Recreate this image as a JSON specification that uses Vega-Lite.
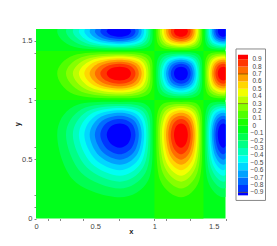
{"$schema":"https://vega.github.io/schema/vega-lite/v6.json","padding":{"left":13,"top":29,"right":0,"bottom":0},"background":"white","spacing":8,"config":{"view":{"stroke":null},"font":"Liberation Sans"},"hconcat":[{"width":189.5,"height":189.5,"encoding":{"x":{"field":"x","type":"quantitative","scale":{"domain":[0,1.6],"nice":false},"axis":{"values":[0,0.1,0.2,0.4,0.5,0.7,1,1.1,1.3,1.5,1.6],"labelExpr":"datum.value==0||datum.value==0.5||datum.value==1||datum.value==1.5?datum.value:''","labelOverlap":false,"labelFlush":false,"grid":false,"domain":false,"tickSize":2,"tickColor":{"condition":{"test":"datum.value==0.5||datum.value==1.5||datum.value==0","value":"transparent"},"value":"#555"},"tickWidth":0.7,"labelFontSize":7.5,"labelColor":"#444","labelPadding":2,"title":"x","titleFontSize":7.5,"titleFontWeight":"bold","titleColor":"#222","titlePadding":-3}},"y":{"field":"y","type":"quantitative","scale":{"domain":[0,1.6],"nice":false},"axis":{"values":[0,0.1,0.2,0.5,0.6,1,1.1,1.4,1.5],"labelExpr":"datum.value==0||datum.value==0.5||datum.value==1||datum.value==1.5?datum.value:''","labelOverlap":false,"labelFlush":false,"grid":false,"domain":false,"tickSize":2,"tickColor":"#555","tickWidth":0.7,"labelFontSize":7.5,"labelColor":"#444","labelPadding":2,"title":"y","titleFontSize":7.5,"titleFontWeight":"bold","titleColor":"#222","titlePadding":0}},"color":{"field":"z","type":"ordinal","legend":null,"scale":{"domain":[-0.95,-0.85,-0.75,-0.65,-0.55,-0.45,-0.35,-0.25,-0.15,-0.05,0.05,0.15,0.25,0.35,0.45,0.55,0.65,0.75,0.85,0.95],"range":["rgb(0,0,255)","rgb(0,54,255)","rgb(0,108,255)","rgb(0,161,255)","rgb(0,215,255)","rgb(0,255,242)","rgb(0,255,188)","rgb(0,255,134)","rgb(0,255,81)","rgb(0,255,27)","rgb(27,255,0)","rgb(81,255,0)","rgb(134,255,0)","rgb(188,255,0)","rgb(242,255,0)","rgb(255,215,0)","rgb(255,161,0)","rgb(255,108,0)","rgb(255,54,0)","rgb(255,0,0)"]}}},"layer":[{"data":{"values":[{"x":0,"x2":1.6,"y":0,"y2":1.6,"z":-0.05},{"x":1,"x2":1.414,"y":0,"y2":1,"z":0.05},{"x":0,"x2":1,"y":1,"y2":1.414,"z":0.05},{"x":1.414,"x2":1.6,"y":1,"y2":1.414,"z":0.05},{"x":1,"x2":1.414,"y":1.414,"y2":1.6,"z":0.05}]},"mark":{"type":"rect","stroke":null},"encoding":{"x2":{"field":"x2"},"y2":{"field":"y2"}}},{"data":{"values":[
{"c":1,"o":0,"z":-0.15,"x":0.707,"y":0.179},{"c":1,"o":1,"z":-0.15,"x":0.32,"y":0.32},{"c":1,"o":2,"z":-0.15,"x":0.179,"y":0.707},{"c":1,"o":3,"z":-0.15,"x":0.32,"y":0.947},{"c":1,"o":4,"z":-0.15,"x":0.707,"y":0.984},{"c":1,"o":5,"z":-0.15,"x":0.947,"y":0.947},{"c":1,"o":6,"z":-0.15,"x":0.984,"y":0.707},{"c":1,"o":7,"z":-0.15,"x":0.947,"y":0.32},
{"c":2,"o":0,"z":-0.25,"x":0.707,"y":0.253},{"c":2,"o":1,"z":-0.25,"x":0.384,"y":0.384},{"c":2,"o":2,"z":-0.25,"x":0.253,"y":0.707},{"c":2,"o":3,"z":-0.25,"x":0.384,"y":0.923},{"c":2,"o":4,"z":-0.25,"x":0.707,"y":0.967},{"c":2,"o":5,"z":-0.25,"x":0.923,"y":0.923},{"c":2,"o":6,"z":-0.25,"x":0.967,"y":0.707},{"c":2,"o":7,"z":-0.25,"x":0.923,"y":0.384},
{"c":3,"o":0,"z":-0.35,"x":0.707,"y":0.311},{"c":3,"o":1,"z":-0.35,"x":0.43,"y":0.43},{"c":3,"o":2,"z":-0.35,"x":0.311,"y":0.707},{"c":3,"o":3,"z":-0.35,"x":0.43,"y":0.903},{"c":3,"o":4,"z":-0.35,"x":0.707,"y":0.95},{"c":3,"o":5,"z":-0.35,"x":0.903,"y":0.903},{"c":3,"o":6,"z":-0.35,"x":0.95,"y":0.707},{"c":3,"o":7,"z":-0.35,"x":0.903,"y":0.43},
{"c":4,"o":0,"z":-0.45,"x":0.707,"y":0.362},{"c":4,"o":1,"z":-0.45,"x":0.467,"y":0.467},{"c":4,"o":2,"z":-0.45,"x":0.362,"y":0.707},{"c":4,"o":3,"z":-0.45,"x":0.467,"y":0.884},{"c":4,"o":4,"z":-0.45,"x":0.707,"y":0.932},{"c":4,"o":5,"z":-0.45,"x":0.884,"y":0.884},{"c":4,"o":6,"z":-0.45,"x":0.932,"y":0.707},{"c":4,"o":7,"z":-0.45,"x":0.884,"y":0.467},
{"c":5,"o":0,"z":-0.55,"x":0.707,"y":0.408},{"c":5,"o":1,"z":-0.55,"x":0.5,"y":0.5},{"c":5,"o":2,"z":-0.55,"x":0.408,"y":0.707},{"c":5,"o":3,"z":-0.55,"x":0.5,"y":0.866},{"c":5,"o":4,"z":-0.55,"x":0.707,"y":0.913},{"c":5,"o":5,"z":-0.55,"x":0.866,"y":0.866},{"c":5,"o":6,"z":-0.55,"x":0.913,"y":0.707},{"c":5,"o":7,"z":-0.55,"x":0.866,"y":0.5},
{"c":6,"o":0,"z":-0.65,"x":0.707,"y":0.453},{"c":6,"o":1,"z":-0.65,"x":0.531,"y":0.531},{"c":6,"o":2,"z":-0.65,"x":0.453,"y":0.707},{"c":6,"o":3,"z":-0.65,"x":0.531,"y":0.847},{"c":6,"o":4,"z":-0.65,"x":0.707,"y":0.892},{"c":6,"o":5,"z":-0.65,"x":0.847,"y":0.847},{"c":6,"o":6,"z":-0.65,"x":0.892,"y":0.707},{"c":6,"o":7,"z":-0.65,"x":0.847,"y":0.531},
{"c":7,"o":0,"z":-0.75,"x":0.707,"y":0.497},{"c":7,"o":1,"z":-0.75,"x":0.562,"y":0.562},{"c":7,"o":2,"z":-0.75,"x":0.497,"y":0.707},{"c":7,"o":3,"z":-0.75,"x":0.562,"y":0.827},{"c":7,"o":4,"z":-0.75,"x":0.707,"y":0.868},{"c":7,"o":5,"z":-0.75,"x":0.827,"y":0.827},{"c":7,"o":6,"z":-0.75,"x":0.868,"y":0.707},{"c":7,"o":7,"z":-0.75,"x":0.827,"y":0.562},
{"c":8,"o":0,"z":-0.85,"x":0.707,"y":0.543},{"c":8,"o":1,"z":-0.85,"x":0.594,"y":0.594},{"c":8,"o":2,"z":-0.85,"x":0.543,"y":0.707},{"c":8,"o":3,"z":-0.85,"x":0.594,"y":0.805},{"c":8,"o":4,"z":-0.85,"x":0.707,"y":0.84},{"c":8,"o":5,"z":-0.85,"x":0.805,"y":0.805},{"c":8,"o":6,"z":-0.85,"x":0.84,"y":0.707},{"c":8,"o":7,"z":-0.85,"x":0.805,"y":0.594},
{"c":9,"o":0,"z":-0.95,"x":0.707,"y":0.597},{"c":9,"o":1,"z":-0.95,"x":0.631,"y":0.631},{"c":9,"o":2,"z":-0.95,"x":0.597,"y":0.707},{"c":9,"o":3,"z":-0.95,"x":0.631,"y":0.776},{"c":9,"o":4,"z":-0.95,"x":0.707,"y":0.802},{"c":9,"o":5,"z":-0.95,"x":0.776,"y":0.776},{"c":9,"o":6,"z":-0.95,"x":0.802,"y":0.707},{"c":9,"o":7,"z":-0.95,"x":0.776,"y":0.631},
{"c":11,"o":0,"z":0.15,"x":1.225,"y":0.179},{"c":11,"o":1,"z":0.15,"x":1.05,"y":0.32},{"c":11,"o":2,"z":0.15,"x":1.016,"y":0.707},{"c":11,"o":3,"z":0.15,"x":1.05,"y":0.947},{"c":11,"o":4,"z":0.15,"x":1.225,"y":0.984},{"c":11,"o":5,"z":0.15,"x":1.378,"y":0.947},{"c":11,"o":6,"z":0.15,"x":1.403,"y":0.707},{"c":11,"o":7,"z":0.15,"x":1.378,"y":0.32},
{"c":12,"o":0,"z":0.25,"x":1.225,"y":0.253},{"c":12,"o":1,"z":0.25,"x":1.071,"y":0.384},{"c":12,"o":2,"z":0.25,"x":1.032,"y":0.707},{"c":12,"o":3,"z":0.25,"x":1.071,"y":0.923},{"c":12,"o":4,"z":0.25,"x":1.225,"y":0.967},{"c":12,"o":5,"z":0.25,"x":1.361,"y":0.923},{"c":12,"o":6,"z":0.25,"x":1.391,"y":0.707},{"c":12,"o":7,"z":0.25,"x":1.361,"y":0.384},
{"c":13,"o":0,"z":0.35,"x":1.225,"y":0.311},{"c":13,"o":1,"z":0.35,"x":1.088,"y":0.43},{"c":13,"o":2,"z":0.35,"x":1.047,"y":0.707},{"c":13,"o":3,"z":0.35,"x":1.088,"y":0.903},{"c":13,"o":4,"z":0.35,"x":1.225,"y":0.95},{"c":13,"o":5,"z":0.35,"x":1.347,"y":0.903},{"c":13,"o":6,"z":0.35,"x":1.379,"y":0.707},{"c":13,"o":7,"z":0.35,"x":1.347,"y":0.43},
{"c":14,"o":0,"z":0.45,"x":1.225,"y":0.362},{"c":14,"o":1,"z":0.45,"x":1.104,"y":0.467},{"c":14,"o":2,"z":0.45,"x":1.063,"y":0.707},{"c":14,"o":3,"z":0.45,"x":1.104,"y":0.884},{"c":14,"o":4,"z":0.45,"x":1.225,"y":0.932},{"c":14,"o":5,"z":0.45,"x":1.335,"y":0.884},{"c":14,"o":6,"z":0.45,"x":1.367,"y":0.707},{"c":14,"o":7,"z":0.45,"x":1.335,"y":0.467},
{"c":15,"o":0,"z":0.55,"x":1.225,"y":0.408},{"c":15,"o":1,"z":0.55,"x":1.118,"y":0.5},{"c":15,"o":2,"z":0.55,"x":1.08,"y":0.707},{"c":15,"o":3,"z":0.55,"x":1.118,"y":0.866},{"c":15,"o":4,"z":0.55,"x":1.225,"y":0.913},{"c":15,"o":5,"z":0.55,"x":1.323,"y":0.866},{"c":15,"o":6,"z":0.55,"x":1.354,"y":0.707},{"c":15,"o":7,"z":0.55,"x":1.323,"y":0.5},
{"c":16,"o":0,"z":0.65,"x":1.225,"y":0.453},{"c":16,"o":1,"z":0.65,"x":1.132,"y":0.531},{"c":16,"o":2,"z":0.65,"x":1.098,"y":0.707},{"c":16,"o":3,"z":0.65,"x":1.132,"y":0.847},{"c":16,"o":4,"z":0.65,"x":1.225,"y":0.892},{"c":16,"o":5,"z":0.65,"x":1.311,"y":0.847},{"c":16,"o":6,"z":0.65,"x":1.34,"y":0.707},{"c":16,"o":7,"z":0.65,"x":1.311,"y":0.531},
{"c":17,"o":0,"z":0.75,"x":1.225,"y":0.497},{"c":17,"o":1,"z":0.75,"x":1.147,"y":0.562},{"c":17,"o":2,"z":0.75,"x":1.117,"y":0.707},{"c":17,"o":3,"z":0.75,"x":1.147,"y":0.827},{"c":17,"o":4,"z":0.75,"x":1.225,"y":0.868},{"c":17,"o":5,"z":0.75,"x":1.298,"y":0.827},{"c":17,"o":6,"z":0.75,"x":1.324,"y":0.707},{"c":17,"o":7,"z":0.75,"x":1.298,"y":0.562},
{"c":18,"o":0,"z":0.85,"x":1.225,"y":0.543},{"c":18,"o":1,"z":0.85,"x":1.163,"y":0.594},{"c":18,"o":2,"z":0.85,"x":1.138,"y":0.707},{"c":18,"o":3,"z":0.85,"x":1.163,"y":0.805},{"c":18,"o":4,"z":0.85,"x":1.225,"y":0.84},{"c":18,"o":5,"z":0.85,"x":1.284,"y":0.805},{"c":18,"o":6,"z":0.85,"x":1.306,"y":0.707},{"c":18,"o":7,"z":0.85,"x":1.284,"y":0.594},
{"c":19,"o":0,"z":0.95,"x":1.225,"y":0.597},{"c":19,"o":1,"z":0.95,"x":1.182,"y":0.631},{"c":19,"o":2,"z":0.95,"x":1.165,"y":0.707},{"c":19,"o":3,"z":0.95,"x":1.182,"y":0.776},{"c":19,"o":4,"z":0.95,"x":1.225,"y":0.802},{"c":19,"o":5,"z":0.95,"x":1.266,"y":0.776},{"c":19,"o":6,"z":0.95,"x":1.282,"y":0.707},{"c":19,"o":7,"z":0.95,"x":1.266,"y":0.631},
{"c":21,"o":0,"z":-0.15,"x":1.581,"y":0.179},{"c":21,"o":1,"z":-0.15,"x":1.45,"y":0.32},{"c":21,"o":2,"z":-0.15,"x":1.425,"y":0.707},{"c":21,"o":3,"z":-0.15,"x":1.45,"y":0.947},{"c":21,"o":4,"z":-0.15,"x":1.581,"y":0.984},{"c":21,"o":5,"z":-0.15,"x":1.702,"y":0.947},{"c":21,"o":6,"z":-0.15,"x":1.723,"y":0.707},{"c":21,"o":7,"z":-0.15,"x":1.702,"y":0.32},
{"c":22,"o":0,"z":-0.25,"x":1.581,"y":0.253},{"c":22,"o":1,"z":-0.25,"x":1.465,"y":0.384},{"c":22,"o":2,"z":-0.25,"x":1.437,"y":0.707},{"c":22,"o":3,"z":-0.25,"x":1.465,"y":0.923},{"c":22,"o":4,"z":-0.25,"x":1.581,"y":0.967},{"c":22,"o":5,"z":-0.25,"x":1.689,"y":0.923},{"c":22,"o":6,"z":-0.25,"x":1.713,"y":0.707},{"c":22,"o":7,"z":-0.25,"x":1.689,"y":0.384},
{"c":23,"o":0,"z":-0.35,"x":1.581,"y":0.311},{"c":23,"o":1,"z":-0.35,"x":1.478,"y":0.43},{"c":23,"o":2,"z":-0.35,"x":1.448,"y":0.707},{"c":23,"o":3,"z":-0.35,"x":1.478,"y":0.903},{"c":23,"o":4,"z":-0.35,"x":1.581,"y":0.95},{"c":23,"o":5,"z":-0.35,"x":1.678,"y":0.903},{"c":23,"o":6,"z":-0.35,"x":1.704,"y":0.707},{"c":23,"o":7,"z":-0.35,"x":1.678,"y":0.43},
{"c":24,"o":0,"z":-0.45,"x":1.581,"y":0.362},{"c":24,"o":1,"z":-0.45,"x":1.489,"y":0.467},{"c":24,"o":2,"z":-0.45,"x":1.46,"y":0.707},{"c":24,"o":3,"z":-0.45,"x":1.489,"y":0.884},{"c":24,"o":4,"z":-0.45,"x":1.581,"y":0.932},{"c":24,"o":5,"z":-0.45,"x":1.668,"y":0.884},{"c":24,"o":6,"z":-0.45,"x":1.694,"y":0.707},{"c":24,"o":7,"z":-0.45,"x":1.668,"y":0.467},
{"c":25,"o":0,"z":-0.55,"x":1.581,"y":0.408},{"c":25,"o":1,"z":-0.55,"x":1.5,"y":0.5},{"c":25,"o":2,"z":-0.55,"x":1.472,"y":0.707},{"c":25,"o":3,"z":-0.55,"x":1.5,"y":0.866},{"c":25,"o":4,"z":-0.55,"x":1.581,"y":0.913},{"c":25,"o":5,"z":-0.55,"x":1.658,"y":0.866},{"c":25,"o":6,"z":-0.55,"x":1.683,"y":0.707},{"c":25,"o":7,"z":-0.55,"x":1.658,"y":0.5},
{"c":26,"o":0,"z":-0.65,"x":1.581,"y":0.453},{"c":26,"o":1,"z":-0.65,"x":1.511,"y":0.531},{"c":26,"o":2,"z":-0.65,"x":1.485,"y":0.707},{"c":26,"o":3,"z":-0.65,"x":1.511,"y":0.847},{"c":26,"o":4,"z":-0.65,"x":1.581,"y":0.892},{"c":26,"o":5,"z":-0.65,"x":1.649,"y":0.847},{"c":26,"o":6,"z":-0.65,"x":1.672,"y":0.707},{"c":26,"o":7,"z":-0.65,"x":1.649,"y":0.531},
{"c":27,"o":0,"z":-0.75,"x":1.581,"y":0.497},{"c":27,"o":1,"z":-0.75,"x":1.522,"y":0.562},{"c":27,"o":2,"z":-0.75,"x":1.499,"y":0.707},{"c":27,"o":3,"z":-0.75,"x":1.522,"y":0.827},{"c":27,"o":4,"z":-0.75,"x":1.581,"y":0.868},{"c":27,"o":5,"z":-0.75,"x":1.638,"y":0.827},{"c":27,"o":6,"z":-0.75,"x":1.659,"y":0.707},{"c":27,"o":7,"z":-0.75,"x":1.638,"y":0.562},
{"c":28,"o":0,"z":-0.85,"x":1.581,"y":0.543},{"c":28,"o":1,"z":-0.85,"x":1.534,"y":0.594},{"c":28,"o":2,"z":-0.85,"x":1.515,"y":0.707},{"c":28,"o":3,"z":-0.85,"x":1.534,"y":0.805},{"c":28,"o":4,"z":-0.85,"x":1.581,"y":0.84},{"c":28,"o":5,"z":-0.85,"x":1.627,"y":0.805},{"c":28,"o":6,"z":-0.85,"x":1.645,"y":0.707},{"c":28,"o":7,"z":-0.85,"x":1.627,"y":0.594},
{"c":29,"o":0,"z":-0.95,"x":1.581,"y":0.597},{"c":29,"o":1,"z":-0.95,"x":1.548,"y":0.631},{"c":29,"o":2,"z":-0.95,"x":1.535,"y":0.707},{"c":29,"o":3,"z":-0.95,"x":1.548,"y":0.776},{"c":29,"o":4,"z":-0.95,"x":1.581,"y":0.802},{"c":29,"o":5,"z":-0.95,"x":1.613,"y":0.776},{"c":29,"o":6,"z":-0.95,"x":1.626,"y":0.707},{"c":29,"o":7,"z":-0.95,"x":1.613,"y":0.631},
{"c":31,"o":0,"z":0.15,"x":0.707,"y":1.016},{"c":31,"o":1,"z":0.15,"x":0.32,"y":1.05},{"c":31,"o":2,"z":0.15,"x":0.179,"y":1.225},{"c":31,"o":3,"z":0.15,"x":0.32,"y":1.378},{"c":31,"o":4,"z":0.15,"x":0.707,"y":1.403},{"c":31,"o":5,"z":0.15,"x":0.947,"y":1.378},{"c":31,"o":6,"z":0.15,"x":0.984,"y":1.225},{"c":31,"o":7,"z":0.15,"x":0.947,"y":1.05},
{"c":32,"o":0,"z":0.25,"x":0.707,"y":1.032},{"c":32,"o":1,"z":0.25,"x":0.384,"y":1.071},{"c":32,"o":2,"z":0.25,"x":0.253,"y":1.225},{"c":32,"o":3,"z":0.25,"x":0.384,"y":1.361},{"c":32,"o":4,"z":0.25,"x":0.707,"y":1.391},{"c":32,"o":5,"z":0.25,"x":0.923,"y":1.361},{"c":32,"o":6,"z":0.25,"x":0.967,"y":1.225},{"c":32,"o":7,"z":0.25,"x":0.923,"y":1.071},
{"c":33,"o":0,"z":0.35,"x":0.707,"y":1.047},{"c":33,"o":1,"z":0.35,"x":0.43,"y":1.088},{"c":33,"o":2,"z":0.35,"x":0.311,"y":1.225},{"c":33,"o":3,"z":0.35,"x":0.43,"y":1.347},{"c":33,"o":4,"z":0.35,"x":0.707,"y":1.379},{"c":33,"o":5,"z":0.35,"x":0.903,"y":1.347},{"c":33,"o":6,"z":0.35,"x":0.95,"y":1.225},{"c":33,"o":7,"z":0.35,"x":0.903,"y":1.088},
{"c":34,"o":0,"z":0.45,"x":0.707,"y":1.063},{"c":34,"o":1,"z":0.45,"x":0.467,"y":1.104},{"c":34,"o":2,"z":0.45,"x":0.362,"y":1.225},{"c":34,"o":3,"z":0.45,"x":0.467,"y":1.335},{"c":34,"o":4,"z":0.45,"x":0.707,"y":1.367},{"c":34,"o":5,"z":0.45,"x":0.884,"y":1.335},{"c":34,"o":6,"z":0.45,"x":0.932,"y":1.225},{"c":34,"o":7,"z":0.45,"x":0.884,"y":1.104},
{"c":35,"o":0,"z":0.55,"x":0.707,"y":1.08},{"c":35,"o":1,"z":0.55,"x":0.5,"y":1.118},{"c":35,"o":2,"z":0.55,"x":0.408,"y":1.225},{"c":35,"o":3,"z":0.55,"x":0.5,"y":1.323},{"c":35,"o":4,"z":0.55,"x":0.707,"y":1.354},{"c":35,"o":5,"z":0.55,"x":0.866,"y":1.323},{"c":35,"o":6,"z":0.55,"x":0.913,"y":1.225},{"c":35,"o":7,"z":0.55,"x":0.866,"y":1.118},
{"c":36,"o":0,"z":0.65,"x":0.707,"y":1.098},{"c":36,"o":1,"z":0.65,"x":0.531,"y":1.132},{"c":36,"o":2,"z":0.65,"x":0.453,"y":1.225},{"c":36,"o":3,"z":0.65,"x":0.531,"y":1.311},{"c":36,"o":4,"z":0.65,"x":0.707,"y":1.34},{"c":36,"o":5,"z":0.65,"x":0.847,"y":1.311},{"c":36,"o":6,"z":0.65,"x":0.892,"y":1.225},{"c":36,"o":7,"z":0.65,"x":0.847,"y":1.132},
{"c":37,"o":0,"z":0.75,"x":0.707,"y":1.117},{"c":37,"o":1,"z":0.75,"x":0.562,"y":1.147},{"c":37,"o":2,"z":0.75,"x":0.497,"y":1.225},{"c":37,"o":3,"z":0.75,"x":0.562,"y":1.298},{"c":37,"o":4,"z":0.75,"x":0.707,"y":1.324},{"c":37,"o":5,"z":0.75,"x":0.827,"y":1.298},{"c":37,"o":6,"z":0.75,"x":0.868,"y":1.225},{"c":37,"o":7,"z":0.75,"x":0.827,"y":1.147},
{"c":38,"o":0,"z":0.85,"x":0.707,"y":1.138},{"c":38,"o":1,"z":0.85,"x":0.594,"y":1.163},{"c":38,"o":2,"z":0.85,"x":0.543,"y":1.225},{"c":38,"o":3,"z":0.85,"x":0.594,"y":1.284},{"c":38,"o":4,"z":0.85,"x":0.707,"y":1.306},{"c":38,"o":5,"z":0.85,"x":0.805,"y":1.284},{"c":38,"o":6,"z":0.85,"x":0.84,"y":1.225},{"c":38,"o":7,"z":0.85,"x":0.805,"y":1.163},
{"c":39,"o":0,"z":0.95,"x":0.707,"y":1.165},{"c":39,"o":1,"z":0.95,"x":0.631,"y":1.182},{"c":39,"o":2,"z":0.95,"x":0.597,"y":1.225},{"c":39,"o":3,"z":0.95,"x":0.631,"y":1.266},{"c":39,"o":4,"z":0.95,"x":0.707,"y":1.282},{"c":39,"o":5,"z":0.95,"x":0.776,"y":1.266},{"c":39,"o":6,"z":0.95,"x":0.802,"y":1.225},{"c":39,"o":7,"z":0.95,"x":0.776,"y":1.182},
{"c":41,"o":0,"z":-0.15,"x":1.225,"y":1.016},{"c":41,"o":1,"z":-0.15,"x":1.05,"y":1.05},{"c":41,"o":2,"z":-0.15,"x":1.016,"y":1.225},{"c":41,"o":3,"z":-0.15,"x":1.05,"y":1.378},{"c":41,"o":4,"z":-0.15,"x":1.225,"y":1.403},{"c":41,"o":5,"z":-0.15,"x":1.378,"y":1.378},{"c":41,"o":6,"z":-0.15,"x":1.403,"y":1.225},{"c":41,"o":7,"z":-0.15,"x":1.378,"y":1.05},
{"c":42,"o":0,"z":-0.25,"x":1.225,"y":1.032},{"c":42,"o":1,"z":-0.25,"x":1.071,"y":1.071},{"c":42,"o":2,"z":-0.25,"x":1.032,"y":1.225},{"c":42,"o":3,"z":-0.25,"x":1.071,"y":1.361},{"c":42,"o":4,"z":-0.25,"x":1.225,"y":1.391},{"c":42,"o":5,"z":-0.25,"x":1.361,"y":1.361},{"c":42,"o":6,"z":-0.25,"x":1.391,"y":1.225},{"c":42,"o":7,"z":-0.25,"x":1.361,"y":1.071},
{"c":43,"o":0,"z":-0.35,"x":1.225,"y":1.047},{"c":43,"o":1,"z":-0.35,"x":1.088,"y":1.088},{"c":43,"o":2,"z":-0.35,"x":1.047,"y":1.225},{"c":43,"o":3,"z":-0.35,"x":1.088,"y":1.347},{"c":43,"o":4,"z":-0.35,"x":1.225,"y":1.379},{"c":43,"o":5,"z":-0.35,"x":1.347,"y":1.347},{"c":43,"o":6,"z":-0.35,"x":1.379,"y":1.225},{"c":43,"o":7,"z":-0.35,"x":1.347,"y":1.088},
{"c":44,"o":0,"z":-0.45,"x":1.225,"y":1.063},{"c":44,"o":1,"z":-0.45,"x":1.104,"y":1.104},{"c":44,"o":2,"z":-0.45,"x":1.063,"y":1.225},{"c":44,"o":3,"z":-0.45,"x":1.104,"y":1.335},{"c":44,"o":4,"z":-0.45,"x":1.225,"y":1.367},{"c":44,"o":5,"z":-0.45,"x":1.335,"y":1.335},{"c":44,"o":6,"z":-0.45,"x":1.367,"y":1.225},{"c":44,"o":7,"z":-0.45,"x":1.335,"y":1.104},
{"c":45,"o":0,"z":-0.55,"x":1.225,"y":1.08},{"c":45,"o":1,"z":-0.55,"x":1.118,"y":1.118},{"c":45,"o":2,"z":-0.55,"x":1.08,"y":1.225},{"c":45,"o":3,"z":-0.55,"x":1.118,"y":1.323},{"c":45,"o":4,"z":-0.55,"x":1.225,"y":1.354},{"c":45,"o":5,"z":-0.55,"x":1.323,"y":1.323},{"c":45,"o":6,"z":-0.55,"x":1.354,"y":1.225},{"c":45,"o":7,"z":-0.55,"x":1.323,"y":1.118},
{"c":46,"o":0,"z":-0.65,"x":1.225,"y":1.098},{"c":46,"o":1,"z":-0.65,"x":1.132,"y":1.132},{"c":46,"o":2,"z":-0.65,"x":1.098,"y":1.225},{"c":46,"o":3,"z":-0.65,"x":1.132,"y":1.311},{"c":46,"o":4,"z":-0.65,"x":1.225,"y":1.34},{"c":46,"o":5,"z":-0.65,"x":1.311,"y":1.311},{"c":46,"o":6,"z":-0.65,"x":1.34,"y":1.225},{"c":46,"o":7,"z":-0.65,"x":1.311,"y":1.132},
{"c":47,"o":0,"z":-0.75,"x":1.225,"y":1.117},{"c":47,"o":1,"z":-0.75,"x":1.147,"y":1.147},{"c":47,"o":2,"z":-0.75,"x":1.117,"y":1.225},{"c":47,"o":3,"z":-0.75,"x":1.147,"y":1.298},{"c":47,"o":4,"z":-0.75,"x":1.225,"y":1.324},{"c":47,"o":5,"z":-0.75,"x":1.298,"y":1.298},{"c":47,"o":6,"z":-0.75,"x":1.324,"y":1.225},{"c":47,"o":7,"z":-0.75,"x":1.298,"y":1.147},
{"c":48,"o":0,"z":-0.85,"x":1.225,"y":1.138},{"c":48,"o":1,"z":-0.85,"x":1.163,"y":1.163},{"c":48,"o":2,"z":-0.85,"x":1.138,"y":1.225},{"c":48,"o":3,"z":-0.85,"x":1.163,"y":1.284},{"c":48,"o":4,"z":-0.85,"x":1.225,"y":1.306},{"c":48,"o":5,"z":-0.85,"x":1.284,"y":1.284},{"c":48,"o":6,"z":-0.85,"x":1.306,"y":1.225},{"c":48,"o":7,"z":-0.85,"x":1.284,"y":1.163},
{"c":49,"o":0,"z":-0.95,"x":1.225,"y":1.165},{"c":49,"o":1,"z":-0.95,"x":1.182,"y":1.182},{"c":49,"o":2,"z":-0.95,"x":1.165,"y":1.225},{"c":49,"o":3,"z":-0.95,"x":1.182,"y":1.266},{"c":49,"o":4,"z":-0.95,"x":1.225,"y":1.282},{"c":49,"o":5,"z":-0.95,"x":1.266,"y":1.266},{"c":49,"o":6,"z":-0.95,"x":1.282,"y":1.225},{"c":49,"o":7,"z":-0.95,"x":1.266,"y":1.182},
{"c":51,"o":0,"z":0.15,"x":1.581,"y":1.016},{"c":51,"o":1,"z":0.15,"x":1.45,"y":1.05},{"c":51,"o":2,"z":0.15,"x":1.425,"y":1.225},{"c":51,"o":3,"z":0.15,"x":1.45,"y":1.378},{"c":51,"o":4,"z":0.15,"x":1.581,"y":1.403},{"c":51,"o":5,"z":0.15,"x":1.702,"y":1.378},{"c":51,"o":6,"z":0.15,"x":1.723,"y":1.225},{"c":51,"o":7,"z":0.15,"x":1.702,"y":1.05},
{"c":52,"o":0,"z":0.25,"x":1.581,"y":1.032},{"c":52,"o":1,"z":0.25,"x":1.465,"y":1.071},{"c":52,"o":2,"z":0.25,"x":1.437,"y":1.225},{"c":52,"o":3,"z":0.25,"x":1.465,"y":1.361},{"c":52,"o":4,"z":0.25,"x":1.581,"y":1.391},{"c":52,"o":5,"z":0.25,"x":1.689,"y":1.361},{"c":52,"o":6,"z":0.25,"x":1.713,"y":1.225},{"c":52,"o":7,"z":0.25,"x":1.689,"y":1.071},
{"c":53,"o":0,"z":0.35,"x":1.581,"y":1.047},{"c":53,"o":1,"z":0.35,"x":1.478,"y":1.088},{"c":53,"o":2,"z":0.35,"x":1.448,"y":1.225},{"c":53,"o":3,"z":0.35,"x":1.478,"y":1.347},{"c":53,"o":4,"z":0.35,"x":1.581,"y":1.379},{"c":53,"o":5,"z":0.35,"x":1.678,"y":1.347},{"c":53,"o":6,"z":0.35,"x":1.704,"y":1.225},{"c":53,"o":7,"z":0.35,"x":1.678,"y":1.088},
{"c":54,"o":0,"z":0.45,"x":1.581,"y":1.063},{"c":54,"o":1,"z":0.45,"x":1.489,"y":1.104},{"c":54,"o":2,"z":0.45,"x":1.46,"y":1.225},{"c":54,"o":3,"z":0.45,"x":1.489,"y":1.335},{"c":54,"o":4,"z":0.45,"x":1.581,"y":1.367},{"c":54,"o":5,"z":0.45,"x":1.668,"y":1.335},{"c":54,"o":6,"z":0.45,"x":1.694,"y":1.225},{"c":54,"o":7,"z":0.45,"x":1.668,"y":1.104},
{"c":55,"o":0,"z":0.55,"x":1.581,"y":1.08},{"c":55,"o":1,"z":0.55,"x":1.5,"y":1.118},{"c":55,"o":2,"z":0.55,"x":1.472,"y":1.225},{"c":55,"o":3,"z":0.55,"x":1.5,"y":1.323},{"c":55,"o":4,"z":0.55,"x":1.581,"y":1.354},{"c":55,"o":5,"z":0.55,"x":1.658,"y":1.323},{"c":55,"o":6,"z":0.55,"x":1.683,"y":1.225},{"c":55,"o":7,"z":0.55,"x":1.658,"y":1.118},
{"c":56,"o":0,"z":0.65,"x":1.581,"y":1.098},{"c":56,"o":1,"z":0.65,"x":1.511,"y":1.132},{"c":56,"o":2,"z":0.65,"x":1.485,"y":1.225},{"c":56,"o":3,"z":0.65,"x":1.511,"y":1.311},{"c":56,"o":4,"z":0.65,"x":1.581,"y":1.34},{"c":56,"o":5,"z":0.65,"x":1.649,"y":1.311},{"c":56,"o":6,"z":0.65,"x":1.672,"y":1.225},{"c":56,"o":7,"z":0.65,"x":1.649,"y":1.132},
{"c":57,"o":0,"z":0.75,"x":1.581,"y":1.117},{"c":57,"o":1,"z":0.75,"x":1.522,"y":1.147},{"c":57,"o":2,"z":0.75,"x":1.499,"y":1.225},{"c":57,"o":3,"z":0.75,"x":1.522,"y":1.298},{"c":57,"o":4,"z":0.75,"x":1.581,"y":1.324},{"c":57,"o":5,"z":0.75,"x":1.638,"y":1.298},{"c":57,"o":6,"z":0.75,"x":1.659,"y":1.225},{"c":57,"o":7,"z":0.75,"x":1.638,"y":1.147},
{"c":58,"o":0,"z":0.85,"x":1.581,"y":1.138},{"c":58,"o":1,"z":0.85,"x":1.534,"y":1.163},{"c":58,"o":2,"z":0.85,"x":1.515,"y":1.225},{"c":58,"o":3,"z":0.85,"x":1.534,"y":1.284},{"c":58,"o":4,"z":0.85,"x":1.581,"y":1.306},{"c":58,"o":5,"z":0.85,"x":1.627,"y":1.284},{"c":58,"o":6,"z":0.85,"x":1.645,"y":1.225},{"c":58,"o":7,"z":0.85,"x":1.627,"y":1.163},
{"c":59,"o":0,"z":0.95,"x":1.581,"y":1.165},{"c":59,"o":1,"z":0.95,"x":1.548,"y":1.182},{"c":59,"o":2,"z":0.95,"x":1.535,"y":1.225},{"c":59,"o":3,"z":0.95,"x":1.548,"y":1.266},{"c":59,"o":4,"z":0.95,"x":1.581,"y":1.282},{"c":59,"o":5,"z":0.95,"x":1.613,"y":1.266},{"c":59,"o":6,"z":0.95,"x":1.626,"y":1.225},{"c":59,"o":7,"z":0.95,"x":1.613,"y":1.182},
{"c":61,"o":0,"z":-0.15,"x":0.707,"y":1.425},{"c":61,"o":1,"z":-0.15,"x":0.32,"y":1.45},{"c":61,"o":2,"z":-0.15,"x":0.179,"y":1.581},{"c":61,"o":3,"z":-0.15,"x":0.32,"y":1.702},{"c":61,"o":4,"z":-0.15,"x":0.707,"y":1.723},{"c":61,"o":5,"z":-0.15,"x":0.947,"y":1.702},{"c":61,"o":6,"z":-0.15,"x":0.984,"y":1.581},{"c":61,"o":7,"z":-0.15,"x":0.947,"y":1.45},
{"c":62,"o":0,"z":-0.25,"x":0.707,"y":1.437},{"c":62,"o":1,"z":-0.25,"x":0.384,"y":1.465},{"c":62,"o":2,"z":-0.25,"x":0.253,"y":1.581},{"c":62,"o":3,"z":-0.25,"x":0.384,"y":1.689},{"c":62,"o":4,"z":-0.25,"x":0.707,"y":1.713},{"c":62,"o":5,"z":-0.25,"x":0.923,"y":1.689},{"c":62,"o":6,"z":-0.25,"x":0.967,"y":1.581},{"c":62,"o":7,"z":-0.25,"x":0.923,"y":1.465},
{"c":63,"o":0,"z":-0.35,"x":0.707,"y":1.448},{"c":63,"o":1,"z":-0.35,"x":0.43,"y":1.478},{"c":63,"o":2,"z":-0.35,"x":0.311,"y":1.581},{"c":63,"o":3,"z":-0.35,"x":0.43,"y":1.678},{"c":63,"o":4,"z":-0.35,"x":0.707,"y":1.704},{"c":63,"o":5,"z":-0.35,"x":0.903,"y":1.678},{"c":63,"o":6,"z":-0.35,"x":0.95,"y":1.581},{"c":63,"o":7,"z":-0.35,"x":0.903,"y":1.478},
{"c":64,"o":0,"z":-0.45,"x":0.707,"y":1.46},{"c":64,"o":1,"z":-0.45,"x":0.467,"y":1.489},{"c":64,"o":2,"z":-0.45,"x":0.362,"y":1.581},{"c":64,"o":3,"z":-0.45,"x":0.467,"y":1.668},{"c":64,"o":4,"z":-0.45,"x":0.707,"y":1.694},{"c":64,"o":5,"z":-0.45,"x":0.884,"y":1.668},{"c":64,"o":6,"z":-0.45,"x":0.932,"y":1.581},{"c":64,"o":7,"z":-0.45,"x":0.884,"y":1.489},
{"c":65,"o":0,"z":-0.55,"x":0.707,"y":1.472},{"c":65,"o":1,"z":-0.55,"x":0.5,"y":1.5},{"c":65,"o":2,"z":-0.55,"x":0.408,"y":1.581},{"c":65,"o":3,"z":-0.55,"x":0.5,"y":1.658},{"c":65,"o":4,"z":-0.55,"x":0.707,"y":1.683},{"c":65,"o":5,"z":-0.55,"x":0.866,"y":1.658},{"c":65,"o":6,"z":-0.55,"x":0.913,"y":1.581},{"c":65,"o":7,"z":-0.55,"x":0.866,"y":1.5},
{"c":66,"o":0,"z":-0.65,"x":0.707,"y":1.485},{"c":66,"o":1,"z":-0.65,"x":0.531,"y":1.511},{"c":66,"o":2,"z":-0.65,"x":0.453,"y":1.581},{"c":66,"o":3,"z":-0.65,"x":0.531,"y":1.649},{"c":66,"o":4,"z":-0.65,"x":0.707,"y":1.672},{"c":66,"o":5,"z":-0.65,"x":0.847,"y":1.649},{"c":66,"o":6,"z":-0.65,"x":0.892,"y":1.581},{"c":66,"o":7,"z":-0.65,"x":0.847,"y":1.511},
{"c":67,"o":0,"z":-0.75,"x":0.707,"y":1.499},{"c":67,"o":1,"z":-0.75,"x":0.562,"y":1.522},{"c":67,"o":2,"z":-0.75,"x":0.497,"y":1.581},{"c":67,"o":3,"z":-0.75,"x":0.562,"y":1.638},{"c":67,"o":4,"z":-0.75,"x":0.707,"y":1.659},{"c":67,"o":5,"z":-0.75,"x":0.827,"y":1.638},{"c":67,"o":6,"z":-0.75,"x":0.868,"y":1.581},{"c":67,"o":7,"z":-0.75,"x":0.827,"y":1.522},
{"c":68,"o":0,"z":-0.85,"x":0.707,"y":1.515},{"c":68,"o":1,"z":-0.85,"x":0.594,"y":1.534},{"c":68,"o":2,"z":-0.85,"x":0.543,"y":1.581},{"c":68,"o":3,"z":-0.85,"x":0.594,"y":1.627},{"c":68,"o":4,"z":-0.85,"x":0.707,"y":1.645},{"c":68,"o":5,"z":-0.85,"x":0.805,"y":1.627},{"c":68,"o":6,"z":-0.85,"x":0.84,"y":1.581},{"c":68,"o":7,"z":-0.85,"x":0.805,"y":1.534},
{"c":69,"o":0,"z":-0.95,"x":0.707,"y":1.535},{"c":69,"o":1,"z":-0.95,"x":0.631,"y":1.548},{"c":69,"o":2,"z":-0.95,"x":0.597,"y":1.581},{"c":69,"o":3,"z":-0.95,"x":0.631,"y":1.613},{"c":69,"o":4,"z":-0.95,"x":0.707,"y":1.626},{"c":69,"o":5,"z":-0.95,"x":0.776,"y":1.613},{"c":69,"o":6,"z":-0.95,"x":0.802,"y":1.581},{"c":69,"o":7,"z":-0.95,"x":0.776,"y":1.548},
{"c":71,"o":0,"z":0.15,"x":1.225,"y":1.425},{"c":71,"o":1,"z":0.15,"x":1.05,"y":1.45},{"c":71,"o":2,"z":0.15,"x":1.016,"y":1.581},{"c":71,"o":3,"z":0.15,"x":1.05,"y":1.702},{"c":71,"o":4,"z":0.15,"x":1.225,"y":1.723},{"c":71,"o":5,"z":0.15,"x":1.378,"y":1.702},{"c":71,"o":6,"z":0.15,"x":1.403,"y":1.581},{"c":71,"o":7,"z":0.15,"x":1.378,"y":1.45},
{"c":72,"o":0,"z":0.25,"x":1.225,"y":1.437},{"c":72,"o":1,"z":0.25,"x":1.071,"y":1.465},{"c":72,"o":2,"z":0.25,"x":1.032,"y":1.581},{"c":72,"o":3,"z":0.25,"x":1.071,"y":1.689},{"c":72,"o":4,"z":0.25,"x":1.225,"y":1.713},{"c":72,"o":5,"z":0.25,"x":1.361,"y":1.689},{"c":72,"o":6,"z":0.25,"x":1.391,"y":1.581},{"c":72,"o":7,"z":0.25,"x":1.361,"y":1.465},
{"c":73,"o":0,"z":0.35,"x":1.225,"y":1.448},{"c":73,"o":1,"z":0.35,"x":1.088,"y":1.478},{"c":73,"o":2,"z":0.35,"x":1.047,"y":1.581},{"c":73,"o":3,"z":0.35,"x":1.088,"y":1.678},{"c":73,"o":4,"z":0.35,"x":1.225,"y":1.704},{"c":73,"o":5,"z":0.35,"x":1.347,"y":1.678},{"c":73,"o":6,"z":0.35,"x":1.379,"y":1.581},{"c":73,"o":7,"z":0.35,"x":1.347,"y":1.478},
{"c":74,"o":0,"z":0.45,"x":1.225,"y":1.46},{"c":74,"o":1,"z":0.45,"x":1.104,"y":1.489},{"c":74,"o":2,"z":0.45,"x":1.063,"y":1.581},{"c":74,"o":3,"z":0.45,"x":1.104,"y":1.668},{"c":74,"o":4,"z":0.45,"x":1.225,"y":1.694},{"c":74,"o":5,"z":0.45,"x":1.335,"y":1.668},{"c":74,"o":6,"z":0.45,"x":1.367,"y":1.581},{"c":74,"o":7,"z":0.45,"x":1.335,"y":1.489},
{"c":75,"o":0,"z":0.55,"x":1.225,"y":1.472},{"c":75,"o":1,"z":0.55,"x":1.118,"y":1.5},{"c":75,"o":2,"z":0.55,"x":1.08,"y":1.581},{"c":75,"o":3,"z":0.55,"x":1.118,"y":1.658},{"c":75,"o":4,"z":0.55,"x":1.225,"y":1.683},{"c":75,"o":5,"z":0.55,"x":1.323,"y":1.658},{"c":75,"o":6,"z":0.55,"x":1.354,"y":1.581},{"c":75,"o":7,"z":0.55,"x":1.323,"y":1.5},
{"c":76,"o":0,"z":0.65,"x":1.225,"y":1.485},{"c":76,"o":1,"z":0.65,"x":1.132,"y":1.511},{"c":76,"o":2,"z":0.65,"x":1.098,"y":1.581},{"c":76,"o":3,"z":0.65,"x":1.132,"y":1.649},{"c":76,"o":4,"z":0.65,"x":1.225,"y":1.672},{"c":76,"o":5,"z":0.65,"x":1.311,"y":1.649},{"c":76,"o":6,"z":0.65,"x":1.34,"y":1.581},{"c":76,"o":7,"z":0.65,"x":1.311,"y":1.511},
{"c":77,"o":0,"z":0.75,"x":1.225,"y":1.499},{"c":77,"o":1,"z":0.75,"x":1.147,"y":1.522},{"c":77,"o":2,"z":0.75,"x":1.117,"y":1.581},{"c":77,"o":3,"z":0.75,"x":1.147,"y":1.638},{"c":77,"o":4,"z":0.75,"x":1.225,"y":1.659},{"c":77,"o":5,"z":0.75,"x":1.298,"y":1.638},{"c":77,"o":6,"z":0.75,"x":1.324,"y":1.581},{"c":77,"o":7,"z":0.75,"x":1.298,"y":1.522},
{"c":78,"o":0,"z":0.85,"x":1.225,"y":1.515},{"c":78,"o":1,"z":0.85,"x":1.163,"y":1.534},{"c":78,"o":2,"z":0.85,"x":1.138,"y":1.581},{"c":78,"o":3,"z":0.85,"x":1.163,"y":1.627},{"c":78,"o":4,"z":0.85,"x":1.225,"y":1.645},{"c":78,"o":5,"z":0.85,"x":1.284,"y":1.627},{"c":78,"o":6,"z":0.85,"x":1.306,"y":1.581},{"c":78,"o":7,"z":0.85,"x":1.284,"y":1.534},
{"c":79,"o":0,"z":0.95,"x":1.225,"y":1.535},{"c":79,"o":1,"z":0.95,"x":1.182,"y":1.548},{"c":79,"o":2,"z":0.95,"x":1.165,"y":1.581},{"c":79,"o":3,"z":0.95,"x":1.182,"y":1.613},{"c":79,"o":4,"z":0.95,"x":1.225,"y":1.626},{"c":79,"o":5,"z":0.95,"x":1.266,"y":1.613},{"c":79,"o":6,"z":0.95,"x":1.282,"y":1.581},{"c":79,"o":7,"z":0.95,"x":1.266,"y":1.548},
{"c":81,"o":0,"z":-0.15,"x":1.581,"y":1.425},{"c":81,"o":1,"z":-0.15,"x":1.45,"y":1.45},{"c":81,"o":2,"z":-0.15,"x":1.425,"y":1.581},{"c":81,"o":3,"z":-0.15,"x":1.45,"y":1.702},{"c":81,"o":4,"z":-0.15,"x":1.581,"y":1.723},{"c":81,"o":5,"z":-0.15,"x":1.702,"y":1.702},{"c":81,"o":6,"z":-0.15,"x":1.723,"y":1.581},{"c":81,"o":7,"z":-0.15,"x":1.702,"y":1.45},
{"c":82,"o":0,"z":-0.25,"x":1.581,"y":1.437},{"c":82,"o":1,"z":-0.25,"x":1.465,"y":1.465},{"c":82,"o":2,"z":-0.25,"x":1.437,"y":1.581},{"c":82,"o":3,"z":-0.25,"x":1.465,"y":1.689},{"c":82,"o":4,"z":-0.25,"x":1.581,"y":1.713},{"c":82,"o":5,"z":-0.25,"x":1.689,"y":1.689},{"c":82,"o":6,"z":-0.25,"x":1.713,"y":1.581},{"c":82,"o":7,"z":-0.25,"x":1.689,"y":1.465},
{"c":83,"o":0,"z":-0.35,"x":1.581,"y":1.448},{"c":83,"o":1,"z":-0.35,"x":1.478,"y":1.478},{"c":83,"o":2,"z":-0.35,"x":1.448,"y":1.581},{"c":83,"o":3,"z":-0.35,"x":1.478,"y":1.678},{"c":83,"o":4,"z":-0.35,"x":1.581,"y":1.704},{"c":83,"o":5,"z":-0.35,"x":1.678,"y":1.678},{"c":83,"o":6,"z":-0.35,"x":1.704,"y":1.581},{"c":83,"o":7,"z":-0.35,"x":1.678,"y":1.478},
{"c":84,"o":0,"z":-0.45,"x":1.581,"y":1.46},{"c":84,"o":1,"z":-0.45,"x":1.489,"y":1.489},{"c":84,"o":2,"z":-0.45,"x":1.46,"y":1.581},{"c":84,"o":3,"z":-0.45,"x":1.489,"y":1.668},{"c":84,"o":4,"z":-0.45,"x":1.581,"y":1.694},{"c":84,"o":5,"z":-0.45,"x":1.668,"y":1.668},{"c":84,"o":6,"z":-0.45,"x":1.694,"y":1.581},{"c":84,"o":7,"z":-0.45,"x":1.668,"y":1.489},
{"c":85,"o":0,"z":-0.55,"x":1.581,"y":1.472},{"c":85,"o":1,"z":-0.55,"x":1.5,"y":1.5},{"c":85,"o":2,"z":-0.55,"x":1.472,"y":1.581},{"c":85,"o":3,"z":-0.55,"x":1.5,"y":1.658},{"c":85,"o":4,"z":-0.55,"x":1.581,"y":1.683},{"c":85,"o":5,"z":-0.55,"x":1.658,"y":1.658},{"c":85,"o":6,"z":-0.55,"x":1.683,"y":1.581},{"c":85,"o":7,"z":-0.55,"x":1.658,"y":1.5},
{"c":86,"o":0,"z":-0.65,"x":1.581,"y":1.485},{"c":86,"o":1,"z":-0.65,"x":1.511,"y":1.511},{"c":86,"o":2,"z":-0.65,"x":1.485,"y":1.581},{"c":86,"o":3,"z":-0.65,"x":1.511,"y":1.649},{"c":86,"o":4,"z":-0.65,"x":1.581,"y":1.672},{"c":86,"o":5,"z":-0.65,"x":1.649,"y":1.649},{"c":86,"o":6,"z":-0.65,"x":1.672,"y":1.581},{"c":86,"o":7,"z":-0.65,"x":1.649,"y":1.511},
{"c":87,"o":0,"z":-0.75,"x":1.581,"y":1.499},{"c":87,"o":1,"z":-0.75,"x":1.522,"y":1.522},{"c":87,"o":2,"z":-0.75,"x":1.499,"y":1.581},{"c":87,"o":3,"z":-0.75,"x":1.522,"y":1.638},{"c":87,"o":4,"z":-0.75,"x":1.581,"y":1.659},{"c":87,"o":5,"z":-0.75,"x":1.638,"y":1.638},{"c":87,"o":6,"z":-0.75,"x":1.659,"y":1.581},{"c":87,"o":7,"z":-0.75,"x":1.638,"y":1.522},
{"c":88,"o":0,"z":-0.85,"x":1.581,"y":1.515},{"c":88,"o":1,"z":-0.85,"x":1.534,"y":1.534},{"c":88,"o":2,"z":-0.85,"x":1.515,"y":1.581},{"c":88,"o":3,"z":-0.85,"x":1.534,"y":1.627},{"c":88,"o":4,"z":-0.85,"x":1.581,"y":1.645},{"c":88,"o":5,"z":-0.85,"x":1.627,"y":1.627},{"c":88,"o":6,"z":-0.85,"x":1.645,"y":1.581},{"c":88,"o":7,"z":-0.85,"x":1.627,"y":1.534},
{"c":89,"o":0,"z":-0.95,"x":1.581,"y":1.535},{"c":89,"o":1,"z":-0.95,"x":1.548,"y":1.548},{"c":89,"o":2,"z":-0.95,"x":1.535,"y":1.581},{"c":89,"o":3,"z":-0.95,"x":1.548,"y":1.613},{"c":89,"o":4,"z":-0.95,"x":1.581,"y":1.626},{"c":89,"o":5,"z":-0.95,"x":1.613,"y":1.613},{"c":89,"o":6,"z":-0.95,"x":1.626,"y":1.581},{"c":89,"o":7,"z":-0.95,"x":1.613,"y":1.548}
]},"mark":{"type":"line","filled":true,"interpolate":"cardinal-closed","clip":true,"strokeWidth":0},"encoding":{"detail":{"field":"c"},"order":{"field":"o"}}}]},{"width":40,"height":189.5,"layer":[{"data":{"values":[{"a":-1.009,"b":1.038}]},"mark":{"type":"rect","fill":"white","stroke":"#888","strokeWidth":1},"encoding":{"y":{"field":"a","type":"quantitative","scale":{"domain":[-1.253,1.308],"nice":false},"axis":null},"y2":{"field":"b"},"x":{"datum":0,"type":"quantitative","scale":{"domain":[0,40],"nice":false},"axis":null},"x2":{"datum":29.5}}},{"data":{"values":[{"a":-0.94,"b":-0.9,"z":-0.95},{"a":-0.9,"b":-0.8,"z":-0.85},{"a":-0.8,"b":-0.7,"z":-0.75},{"a":-0.7,"b":-0.6,"z":-0.65},{"a":-0.6,"b":-0.5,"z":-0.55},{"a":-0.5,"b":-0.4,"z":-0.45},{"a":-0.4,"b":-0.3,"z":-0.35},{"a":-0.3,"b":-0.2,"z":-0.25},{"a":-0.2,"b":-0.1,"z":-0.15},{"a":-0.1,"b":0,"z":-0.05},{"a":0,"b":0.1,"z":0.05},{"a":0.1,"b":0.2,"z":0.15},{"a":0.2,"b":0.3,"z":0.25},{"a":0.3,"b":0.4,"z":0.35},{"a":0.4,"b":0.5,"z":0.45},{"a":0.5,"b":0.6,"z":0.55},{"a":0.6,"b":0.7,"z":0.65},{"a":0.7,"b":0.8,"z":0.75},{"a":0.8,"b":0.9,"z":0.85},{"a":0.9,"b":0.96,"z":0.95}]},"mark":{"type":"rect","stroke":null},"encoding":{"y":{"field":"a","type":"quantitative","scale":{"domain":[-1.253,1.308],"nice":false},"axis":null},"y2":{"field":"b"},"x":{"datum":2,"type":"quantitative","scale":{"domain":[0,40],"nice":false},"axis":null},"x2":{"datum":12},"color":{"field":"z","type":"ordinal","legend":null}}},{"data":{"values":[{"v":0.7},{"v":0.3},{"v":-0.9}]},"mark":{"type":"rule","strokeWidth":0.6,"color":"#554400"},"encoding":{"y":{"field":"v","type":"quantitative","scale":{"domain":[-1.253,1.308],"nice":false},"axis":null},"x":{"datum":2,"type":"quantitative","scale":{"domain":[0,40],"nice":false},"axis":null},"x2":{"datum":12}}},{"data":{"values":[{"v":0},{"v":0.1},{"v":0.2},{"v":0.3},{"v":0.4},{"v":0.5},{"v":0.6},{"v":0.7},{"v":0.8},{"v":0.9}]},"mark":{"type":"text","align":"left","fontSize":6.5,"color":"#444"},"encoding":{"y":{"field":"v","type":"quantitative","scale":{"domain":[-1.253,1.308],"nice":false},"axis":null},"x":{"datum":16.5,"type":"quantitative","scale":{"domain":[0,40],"nice":false},"axis":null},"text":{"field":"v","type":"quantitative"}}},{"data":{"values":[{"v":-0.1},{"v":-0.2},{"v":-0.3},{"v":-0.4},{"v":-0.5},{"v":-0.6},{"v":-0.7},{"v":-0.8},{"v":-0.9}]},"mark":{"type":"text","align":"left","fontSize":6.5,"color":"#444"},"encoding":{"y":{"field":"v","type":"quantitative","scale":{"domain":[-1.253,1.308],"nice":false},"axis":null},"x":{"datum":14.5,"type":"quantitative","scale":{"domain":[0,40],"nice":false},"axis":null},"text":{"field":"v","type":"quantitative"}}}],"resolve":{"scale":{"color":"shared"}}}],"resolve":{"scale":{"color":"shared"}}}
